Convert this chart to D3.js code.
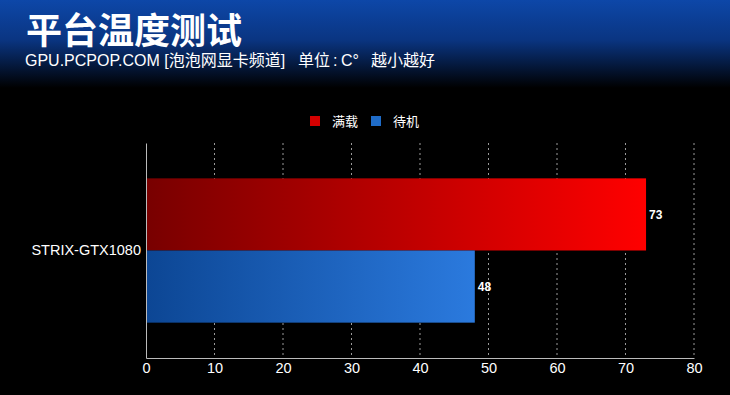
<!DOCTYPE html>
<html>
<head>
<meta charset="utf-8">
<script src="https://cdn.jsdelivr.net/npm/d3@7"></script>
<style>
  body { margin: 0; background: #000; }
  svg { display: block; font-family: "Liberation Sans", "Noto Sans CJK SC", sans-serif; }
</style>
</head>
<body>
<script>
const w = 730;
const h = 395;

const categories = ["STRIX-GTX1080"];
const seriesNames = ["满载", "待机"];
const fullLoad = [73];
const idle = [48];
const xTicks = [0, 10, 20, 30, 40, 50, 60, 70, 80];

const series = [
  { name: seriesNames[0], values: fullLoad, from: "#780000", to: "#ff0000", key: "#d40000" },
  { name: seriesNames[1], values: idle, from: "#0c4694", to: "#2b7ade", key: "#1f6cc8" }
];

const margin = { left: 146, right: 36, top: 143, bottom: 37 };

const svg = d3.select("body").append("svg").attr("width", w).attr("height", h);
const defs = svg.append("defs");

// header background
const hg = defs.append("linearGradient").attr("id", "head").attr("x1", 0).attr("y1", 0).attr("x2", 0).attr("y2", 1);
hg.append("stop").attr("offset", "0%").attr("stop-color", "#0d47a8");
hg.append("stop").attr("offset", "45%").attr("stop-color", "#0a3582");
hg.append("stop").attr("offset", "100%").attr("stop-color", "#000");
svg.append("rect").attr("width", w).attr("height", h).attr("fill", "#000");
svg.append("rect").attr("width", w).attr("height", 88).attr("fill", "url(#head)");

svg.append("text").attr("x", 26).attr("y", 44)
  .attr("fill", "#fff").attr("font-size", 36).attr("font-weight", "bold")
  .attr("font-family", "Noto Sans CJK SC")
  .text("平台温度测试");

// subtitle pieces (spacing as in the picture)
const subs = [
  { x: 25, t: "GPU.PCPOP.COM [泡泡网显卡频道]" },
  { x: 298, t: "单位" },
  { x: 333, t: ":" },
  { x: 341, t: "C°" },
  { x: 371, t: "越小越好" }
];
svg.append("g").selectAll("text").data(subs).enter().append("text")
  .attr("x", d => d.x).attr("y", 66)
  .attr("fill", "#fff").attr("font-size", 16)
  .text(d => d.t);

series.forEach((s, i) => {
  const g = defs.append("linearGradient").attr("id", "grad" + i).attr("x1", 0).attr("x2", 1).attr("y1", 0).attr("y2", 0);
  g.append("stop").attr("offset", "0%").attr("stop-color", s.from);
  g.append("stop").attr("offset", "100%").attr("stop-color", s.to);
});

const xScale = d3.scaleLinear().domain([0, 80]).range([margin.left, w - margin.right]);
const yScale = d3.scaleBand().domain(categories).range([margin.top, h - margin.bottom]).paddingInner(0).paddingOuter(0.245);
const inner = d3.scaleBand().domain(seriesNames).range([0, yScale.bandwidth()]);

// grid lines
svg.append("g").selectAll("line").data(xTicks.slice(1)).enter().append("line")
  .attr("x1", d => xScale(d)).attr("x2", d => xScale(d))
  .attr("y1", margin.top).attr("y2", h - margin.bottom)
  .attr("stroke", "#9a9a9a").attr("stroke-width", 1).attr("stroke-dasharray", "2,3");

// bars
const barsGroup = svg.append("g").attr("class", "bars-group");
series.forEach((s, i) => {
  barsGroup.selectAll(".bar" + i).data(categories).enter().append("rect")
    .attr("x", xScale(0))
    .attr("y", d => yScale(d) + inner(s.name))
    .attr("width", (d, j) => xScale(s.values[j]) - xScale(0))
    .attr("height", inner.bandwidth())
    .attr("fill", "url(#grad" + i + ")");
  barsGroup.selectAll(".label" + i).data(categories).enter().append("text")
    .attr("x", (d, j) => xScale(s.values[j]) + 3)
    .attr("y", d => yScale(d) + inner(s.name) + inner.bandwidth() / 2)
    .attr("dy", "0.35em")
    .attr("fill", "#fff").attr("font-size", 12).attr("font-weight", "bold")
    .text((d, j) => s.values[j]);
});

// axes
const xAxis = d3.axisBottom(xScale).tickValues(xTicks).tickSize(0).tickPadding(5);
const gx = svg.append("g").attr("transform", "translate(0," + (h - margin.bottom) + ")").call(xAxis);
gx.select(".domain").attr("stroke", "#bbb");
gx.selectAll("text").attr("fill", "#fff").attr("font-size", 14.5).attr("font-family", "Liberation Sans");

const yAxis = d3.axisLeft(yScale).tickSize(0).tickPadding(5);
const gy = svg.append("g").attr("transform", "translate(" + margin.left + ",0)").call(yAxis);
gy.select(".domain").attr("stroke", "#bbb");
gy.selectAll("text").attr("fill", "#fff").attr("font-size", 14.5).attr("font-family", "Liberation Sans");

// legend
const legend = svg.append("g").attr("transform", "translate(310,121)");
const lx = [0, 61];
series.forEach((s, i) => {
  legend.append("rect").attr("x", lx[i]).attr("y", -5).attr("width", 10).attr("height", 10).attr("fill", s.key);
  legend.append("text").attr("x", lx[i] + 22).attr("y", 0).attr("dy", "0.35em")
    .attr("fill", "#fff").attr("font-size", 13).attr("font-family", "Noto Sans CJK SC")
    .text(s.name);
});
</script>
</body>
</html>
